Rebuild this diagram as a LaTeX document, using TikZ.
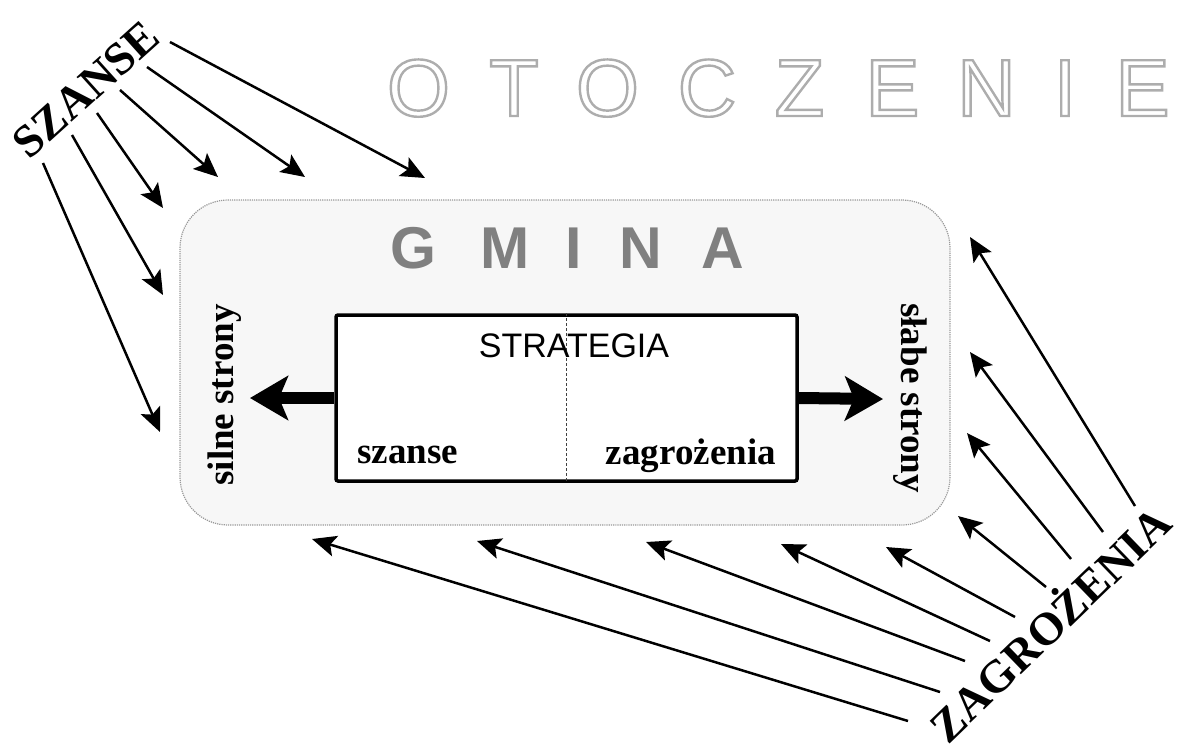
\documentclass[tikz,border=0pt]{standalone}
\usepackage{fontspec}
\setmainfont{Liberation Serif}
\newfontfamily\arialf{Liberation Sans}
\usetikzlibrary{arrows.meta}
\tikzset{
  thinarrow/.style={line width=2.5pt, -{Stealth[length=24pt,width=21pt,inset=5pt]}},
  bigarrow/.style={line width=12pt, -{Stealth[length=38pt,width=44pt,inset=9pt]}},
  biglabel/.style={font=\fontsize{46}{50}\selectfont\bfseries, inner sep=0pt, text height=30.5pt, text depth=0pt},
  sidelabel/.style={font=\fontsize{37}{40}\selectfont\bfseries, inner sep=0pt},
  otletter/.style={font=\arialf\fontsize{81}{85}\selectfont, inner sep=0pt, anchor=base, text=black!32},
  gmletter/.style={font=\arialf\bfseries\fontsize{59}{62}\selectfont, inner sep=0pt, anchor=base, text=black!50},
  gminabox/.style={draw=black!40, densely dotted, line width=1.2pt, fill=black!3, rounded corners=48pt, minimum width=770pt, minimum height=325pt, inner sep=0pt},
  stratbox/.style={draw, line width=3.5pt, rounded corners=2pt, fill=white, minimum width=461pt, minimum height=166pt, inner sep=0pt},
  divider/.style={black!75, line width=0.8pt, dash pattern=on 3pt off 2pt},
}
\newcommand{\otl}[1]{\special{pdf:literal direct 2.4 w 1 Tr}#1\special{pdf:literal direct 0 Tr}}
\begin{document}
\begin{tikzpicture}[x=1pt,y=-1pt]
\useasboundingbox (0,0) rectangle (1178,748);

% OTOCZENIE
\node[otletter] (o1) at (418.5,116) {\otl{O}};
\node[otletter] (o2) at (514,116) {\otl{T}};
\node[otletter] (o3) at (607.5,116) {\otl{O}};
\node[otletter] (o4) at (707,116) {\otl{C}};
\node[otletter] (o5) at (799.5,116) {\otl{Z}};
\node[otletter] (o6) at (892.5,116) {\otl{E}};
\node[otletter] (o7) at (986.5,116) {\otl{N}};
\node[otletter] (o8) at (1065,116) {\otl{I}};
\node[otletter] (o9) at (1142.5,116) {\otl{E}};

% GMINA box
\node[gminabox] (gmina) at (565,362.5) {};
\node[gmletter] (g1) at (413.5,268) {G};
\node[gmletter] (g2) at (505,268) {M};
\node[gmletter] (g3) at (574,268) {I};
\node[gmletter] (g4) at (641,268) {N};
\node[gmletter] (g5) at (722.5,268) {A};

% strategy box
\node[stratbox] (strat) at (566.5,398) {};
\draw[divider] (strat.north) -- (strat.south);
\node[font=\arialf\fontsize{34}{36}\selectfont, anchor=base, inner sep=0pt] (strtitle) at (574,357) {STRATEGIA};
\node[sidelabel, anchor=base west] (sz) at (357,463) {szanse};
\node[sidelabel, anchor=base east] (zg) at (776,464) {zagrożenia};

% side labels
\node[sidelabel, rotate=90] (silne) at (225,395) {silne strony};
\node[sidelabel, rotate=-90] (slabe) at (910,398) {słabe strony};

% thick arrows
\coordinate (lt) at (250,398);
\coordinate (rt) at (883,399);
\draw[bigarrow] (strat.west) -- (lt);
\draw[bigarrow] (strat.east) -- (rt);

% SZANSE
\node[biglabel, rotate=42] (szanse) at (86,89) {SZANSE};
\coordinate (s1a) at (170,42);  \coordinate (s1b) at (425,178);
\coordinate (s2a) at (147,67);  \coordinate (s2b) at (305,177);
\coordinate (s3a) at (120,90);  \coordinate (s3b) at (218,177);
\coordinate (s4a) at (97,113);  \coordinate (s4b) at (163,208);
\coordinate (s5a) at (72,135);  \coordinate (s5b) at (163,295);
\coordinate (s6a) at (43,163);  \coordinate (s6b) at (160,432);
\foreach \i in {1,...,6} \draw[thinarrow] (s\i a) -- (s\i b);

% ZAGROZENIA
\node[biglabel, rotate=44] (zagr) at (1051,625) {ZAGROŻENIA};
\coordinate (z1a) at (1135,506); \coordinate (z1b) at (970,237);
\coordinate (z2a) at (1103,532); \coordinate (z2b) at (970,352);
\coordinate (z3a) at (1071,559); \coordinate (z3b) at (967,433);
\coordinate (z4a) at (1046,587); \coordinate (z4b) at (958,516);
\coordinate (z5a) at (1015,617); \coordinate (z5b) at (886,547);
\coordinate (z6a) at (990,641);  \coordinate (z6b) at (781,544);
\coordinate (z7a) at (965,661);  \coordinate (z7b) at (646,542);
\coordinate (z8a) at (940,692);  \coordinate (z8b) at (477,541);
\coordinate (z9a) at (908,721);  \coordinate (z9b) at (312,539);
\foreach \i in {1,...,9} \draw[thinarrow] (z\i a) -- (z\i b);
\end{tikzpicture}
\end{document}
